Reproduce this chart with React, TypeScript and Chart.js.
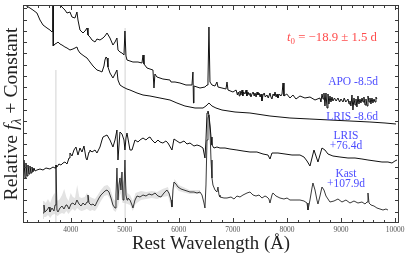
import { useEffect, useRef } from "react";
import { Chart, registerables } from "chart.js";

Chart.register(...registerables);

// ---------- axis ranges ----------
const xMin = 3118;
const xMax = 10074;
const yMin = 0;
const yMax = 218;
const yTickStep = 11.3;
const minorStep = 200;
const xTickLabels = [4000, 5000, 6000, 7000, 8000, 9000, 10000];

// ---------- spectra: [rest wavelength (Å), relative flux + constant] ----------
const apoSpectrum: [number, number][] = [
  [3746, 233], [3765, 220], [3802, 218], [3839, 216], [3894, 213], [3932, 210], [3987, 211], [4024, 206],
  [4079, 205], [4116, 211], [4135, 203], [4172, 193], [4228, 190], [4265, 192], [4302, 195], [4320, 188],
  [4357, 186], [4394, 183], [4450, 181], [4486, 184], [4542, 183], [4598, 185], [4634, 187], [4672, 190],
  [4727, 185], [4782, 178], [4820, 181], [4856, 185], [4875, 173], [4912, 171], [4949, 170], [4986, 168],
  [5004, 192], [5023, 167], [5042, 163], [5097, 162], [5152, 161], [5245, 161], [5319, 160], [5338, 168],
  [5356, 159], [5412, 155], [5467, 154], [5522, 153], [5541, 135], [5559, 149], [5596, 146], [5706, 144],
  [5837, 143], [5856, 141], [5930, 141], [6022, 140], [6133, 138], [6244, 138], [6262, 151], [6272, 120],
  [6281, 137], [6392, 135], [6484, 136], [6522, 138], [6540, 143], [6558, 196], [6577, 141], [6614, 138],
  [6670, 137], [6706, 141], [6725, 136], [6799, 135], [6873, 134], [6892, 141], [6910, 133], [7002, 131],
  [7060, 133], [7085, 128], [7100, 131], [7120, 127], [7132, 132], [7150, 128], [7170, 133], [7185, 127],
  [7200, 131], [7225, 129], [7245, 133], [7260, 127], [7280, 131], [7300, 128], [7317, 130], [7335, 126],
  [7354, 129], [7375, 131], [7395, 127], [7410, 130], [7430, 126], [7448, 131], [7465, 128], [7485, 130],
  [7505, 126], [7521, 129], [7539, 122], [7558, 128], [7580, 130], [7600, 126], [7632, 128], [7655, 125],
  [7687, 130], [7705, 126], [7724, 124], [7745, 129], [7765, 127], [7780, 131], [7800, 126], [7818, 129],
  [7835, 125], [7860, 129], [7890, 127], [7910, 129], [7928, 140], [7946, 127], [7998, 129], [8057, 125],
  [8112, 128], [8168, 124], [8242, 127], [8334, 125], [8427, 126], [8520, 123], [8612, 125], [8630, 121],
  [8650, 129], [8668, 124], [8686, 130], [8704, 117], [8723, 130], [8742, 115], [8760, 129], [8778, 119],
  [8797, 127], [8815, 121], [8834, 126], [8852, 122], [8880, 125], [8910, 122], [8945, 125], [8975, 121],
  [9000, 124], [9038, 121], [9060, 125], [9090, 121], [9130, 124], [9150, 119], [9167, 122], [9185, 117],
  [9204, 128], [9222, 113], [9241, 125], [9260, 118], [9278, 124], [9296, 116], [9315, 127], [9333, 119],
  [9352, 124], [9370, 120], [9390, 125], [9408, 121], [9425, 126], [9445, 118], [9463, 124], [9482, 117],
  [9500, 127], [9519, 121], [9537, 125], [9555, 119], [9574, 125], [9592, 120], [9611, 124], [9630, 121],
  [9648, 126], [9666, 124],
];

const lrisEarlySpectrum: [number, number][] = [
  [3118, 225], [3155, 218], [3247, 215], [3302, 213], [3376, 210], [3432, 203], [3488, 198], [3562, 195],
  [3617, 193], [3654, 191], [3668, 192], [3673, 228], [3678, 177], [3710, 179], [3746, 180], [3765, 181],
  [3802, 179], [3839, 178], [3894, 176], [3932, 175], [3987, 173], [4042, 174], [4116, 176], [4135, 173],
  [4172, 170], [4246, 167], [4302, 165], [4357, 161], [4413, 157], [4486, 153], [4542, 152], [4579, 151],
  [4616, 157], [4634, 163], [4653, 166], [4672, 165], [4690, 156], [4727, 150], [4782, 145], [4820, 149],
  [4856, 153], [4875, 143], [4912, 138], [4968, 136], [5042, 134], [5097, 133], [5227, 130], [5338, 128],
  [5467, 127], [5652, 125], [5837, 123], [5966, 120], [6114, 117], [6300, 115], [6448, 115], [6503, 117],
  [6558, 120], [6614, 117], [6688, 115], [6799, 113], [7040, 111], [7317, 110], [7687, 107], [8057, 105],
  [8427, 104], [8797, 103], [9167, 102], [9537, 101], [9815, 100], [10018, 99],
];

const lrisLateSpectrum: [number, number][] = [
  [3118, 53], [3136, 63], [3155, 45], [3173, 60], [3192, 47], [3210, 58], [3229, 49], [3247, 57],
  [3266, 50], [3284, 56], [3302, 51], [3321, 55], [3340, 52], [3376, 53], [3432, 54], [3488, 53],
  [3543, 55], [3617, 54], [3673, 56], [3710, 55], [3728, 58], [3746, 56], [3783, 59], [3820, 58],
  [3858, 60], [3894, 61], [3932, 59], [3969, 65], [3987, 70], [4024, 67], [4061, 73], [4098, 76],
  [4135, 68], [4172, 75], [4209, 71], [4246, 77], [4283, 65], [4302, 63], [4339, 71], [4357, 73],
  [4394, 71], [4450, 73], [4486, 70], [4542, 76], [4579, 83], [4598, 86], [4634, 87], [4672, 88],
  [4727, 83], [4782, 76], [4820, 83], [4856, 93], [4875, 63], [4894, 78], [4912, 91], [4949, 89],
  [4986, 83], [5004, 73], [5023, 85], [5042, 90], [5097, 73], [5134, 73], [5190, 83], [5245, 81],
  [5282, 83], [5338, 85], [5393, 83], [5430, 85], [5467, 86], [5504, 83], [5560, 80], [5615, 83],
  [5652, 81], [5706, 80], [5762, 82], [5800, 80], [5874, 73], [5911, 84], [5966, 82], [6022, 80],
  [6096, 82], [6152, 79], [6207, 80], [6281, 77], [6337, 78], [6392, 77], [6448, 75], [6484, 65],
  [6503, 83], [6522, 110], [6540, 112], [6558, 108], [6577, 98], [6596, 86], [6614, 78], [6651, 75],
  [6706, 76], [6762, 75], [6855, 75], [6947, 74], [7076, 73], [7188, 72], [7317, 71], [7446, 71],
  [7558, 69], [7650, 68], [7687, 64], [7724, 70], [7835, 70], [7965, 69], [8094, 68], [8242, 68],
  [8316, 66], [8372, 62], [8427, 57], [8464, 65], [8501, 73], [8538, 67], [8575, 61], [8612, 68],
  [8649, 75], [8704, 73], [8760, 69], [8852, 67], [8982, 66], [9130, 65], [9260, 65], [9389, 64],
  [9500, 63], [9630, 62], [9759, 61], [9870, 61], [9944, 60], [9999, 62], [10036, 63],
];

const kastSpectrum: [number, number][] = [
  [3488, 10], [3506, 18], [3524, 11], [3562, 13], [3599, 16], [3617, 11], [3654, 15], [3691, 12],
  [3710, 18], [3728, 58], [3746, 13], [3765, 11], [3802, 15], [3839, 17], [3876, 14], [3913, 18],
  [3932, 18], [3969, 14], [4006, 19], [4042, 20], [4079, 18], [4116, 23], [4154, 19], [4191, 17],
  [4228, 20], [4265, 18], [4302, 21], [4320, 28], [4339, 20], [4376, 18], [4413, 19], [4450, 17],
  [4486, 21], [4524, 25], [4560, 28], [4598, 30], [4634, 32], [4672, 33], [4708, 31], [4746, 25],
  [4782, 18], [4820, 15], [4838, 28], [4856, 55], [4875, 23], [4894, 38], [4912, 45], [4930, 33],
  [4949, 51], [4968, 23], [4986, 33], [5004, 63], [5023, 28], [5042, 23], [5060, 25], [5097, 23],
  [5134, 18], [5152, 15], [5190, 23], [5227, 27], [5282, 26], [5338, 28], [5393, 27], [5449, 29],
  [5504, 28], [5560, 30], [5615, 27], [5670, 26], [5726, 30], [5780, 33], [5818, 30], [5856, 23],
  [5874, 16], [5892, 33], [5911, 41], [5948, 39], [5985, 36], [6041, 34], [6096, 33], [6152, 32],
  [6207, 31], [6281, 31], [6337, 30], [6392, 31], [6429, 28], [6466, 20], [6484, 15], [6503, 38],
  [6522, 83], [6540, 105], [6558, 108], [6577, 93], [6596, 63], [6614, 45], [6632, 38], [6670, 33],
  [6706, 31], [6725, 36], [6744, 28], [6762, 26], [6836, 25], [6892, 25], [6966, 26], [7021, 24],
  [7076, 27], [7132, 26], [7188, 28], [7262, 30], [7317, 31], [7373, 28], [7428, 27], [7484, 28],
  [7539, 25], [7595, 27], [7632, 26], [7668, 24], [7687, 20], [7724, 28], [7742, 30], [7798, 27],
  [7872, 25], [7946, 24], [8002, 25], [8057, 23], [8150, 23], [8242, 23], [8316, 22], [8372, 20],
  [8390, 13], [8427, 23], [8464, 35], [8482, 40], [8520, 33], [8556, 23], [8575, 19], [8612, 27],
  [8649, 36], [8686, 33], [8723, 27], [8797, 21], [8871, 22], [8945, 24], [9019, 21], [9093, 23],
  [9167, 20], [9241, 22], [9315, 20], [9389, 21], [9445, 19], [9482, 21], [9500, 30], [9519, 20],
  [9556, 18], [9611, 17], [9666, 15], [9722, 14], [9778, 13], [9833, 14], [9870, 13],
];

// Kast uncertainty envelope: [wavelength, lower, upper]
const kastBand: [number, number, number][] = [
  [3488, 4, 40], [3506, 6, 22], [3540, 6, 20], [3580, 8, 24], [3620, 5, 20], [3660, 8, 26], [3700, 9, 30],
  [3760, 7, 22], [3800, 9, 24], [3840, 10, 28], [3880, 9, 34], [3920, 12, 26], [3960, 9, 22], [4000, 12, 30],
  [4040, 14, 26], [4080, 12, 25], [4120, 15, 38], [4160, 13, 26], [4200, 12, 25], [4260, 13, 26], [4300, 14, 30],
  [4360, 12, 26], [4400, 13, 25], [4450, 12, 24], [4500, 16, 28], [4560, 22, 33], [4620, 27, 37], [4680, 28, 38],
  [4730, 24, 35], [4790, 13, 24], [4830, 11, 22], [4880, 17, 40], [4920, 30, 48], [4960, 20, 40], [5000, 20, 45],
  [5050, 19, 30], [5100, 18, 28], [5150, 12, 22], [5200, 19, 30], [5300, 23, 32], [5400, 24, 31], [5500, 25, 32],
  [5600, 24, 31], [5700, 26, 34], [5800, 27, 36], [5874, 13, 20], [5920, 37, 44], [6000, 32, 38], [6200, 29, 33],
  [6400, 29, 33],
];

// host-galaxy line markers
const markerOII: [number, number][] = [[3727, 0], [3727, 153]];
const markerOIII: [number, number][] = [[5007, 0], [5007, 195]];

const spectrumLabels = [
  { lines: ["APO -8.5d"], x: 378, y: 85, align: "right" },
  { lines: ["LRIS -8.6d"], x: 378, y: 120, align: "right" },
  { lines: ["LRIS", "+76.4d"], x: 346, y: 139, align: "center" },
  { lines: ["Kast", "+107.9d"], x: 346, y: 177, align: "center" },
];

const SERIF = '"Liberation Serif", "DejaVu Serif", serif';

type Part = { t: string; italic?: boolean; sub?: boolean };

function partFont(p: Part, size: number) {
  const s = p.sub ? size * 0.7 : size;
  return `${p.italic ? "italic " : ""}${s}px ${SERIF}`;
}

function measureParts(ctx: CanvasRenderingContext2D, parts: Part[], size: number) {
  let w = 0;
  for (const p of parts) {
    ctx.font = partFont(p, size);
    w += ctx.measureText(p.t).width;
  }
  return w;
}

function drawParts(ctx: CanvasRenderingContext2D, parts: Part[], x: number, y: number, size: number) {
  let cx = x;
  ctx.textAlign = "left";
  ctx.textBaseline = "alphabetic";
  for (const p of parts) {
    ctx.font = partFont(p, size);
    ctx.fillText(p.t, cx, p.sub ? y + size * 0.22 : y);
    cx += ctx.measureText(p.t).width;
  }
}

function fitSize(ctx: CanvasRenderingContext2D, parts: Part[], target: number) {
  const w = measureParts(ctx, parts, 20);
  return (20 * target) / w;
}

const overlay = {
  id: "overlay",
  afterDraw(chart: any) {
    const { ctx, chartArea: a, scales } = chart;
    const xs = scales.x;
    const ys = scales.y;
    ctx.save();
    // frame
    ctx.strokeStyle = "#3a3a3a";
    ctx.lineWidth = 1;
    ctx.strokeRect(a.left + 0.5, a.top + 0.5, a.right - a.left - 1, a.bottom - a.top - 1);
    // ticks
    ctx.beginPath();
    for (let w = Math.ceil(xMin / minorStep) * minorStep; w <= xMax; w += minorStep) {
      const px = Math.round(xs.getPixelForValue(w)) + 0.5;
      const len = w % 1000 === 0 ? 5 : 3;
      ctx.moveTo(px, a.bottom);
      ctx.lineTo(px, a.bottom - len);
      ctx.moveTo(px, a.top);
      ctx.lineTo(px, a.top + len);
    }
    for (let v = yTickStep; v < yMax; v += yTickStep) {
      const py = Math.round(ys.getPixelForValue(v)) + 0.5;
      ctx.moveTo(a.left, py);
      ctx.lineTo(a.left + 4, py);
      ctx.moveTo(a.right, py);
      ctx.lineTo(a.right - 4, py);
    }
    ctx.stroke();
    // tick labels
    ctx.fillStyle = "#555";
    ctx.font = `7.5px ${SERIF}`;
    ctx.textAlign = "center";
    ctx.textBaseline = "alphabetic";
    for (const w of xTickLabels) {
      ctx.fillText(String(w), xs.getPixelForValue(w), a.bottom + 8.5);
    }
    // x title
    ctx.fillStyle = "#222";
    const xt: Part[] = [{ t: "Rest Wavelength (Å)" }];
    const xsz = fitSize(ctx, xt, 158);
    drawParts(ctx, xt, 211 - 79, 249, xsz);
    // y title
    const yt: Part[] = [
      { t: "Relative " },
      { t: "f", italic: true },
      { t: "λ", italic: true, sub: true },
      { t: " + Constant" },
    ];
    const ysz = fitSize(ctx, yt, 173);
    ctx.save();
    ctx.translate(17, 114);
    ctx.rotate(-Math.PI / 2);
    drawParts(ctx, yt, -86.5, 0, ysz);
    ctx.restore();
    // t0 annotation
    ctx.fillStyle = "#ff4d4d";
    const t0: Part[] = [{ t: "t", italic: true }, { t: "0", sub: true }, { t: " = −18.9 ± 1.5 d" }];
    const tsz = fitSize(ctx, t0, 90);
    drawParts(ctx, t0, 287, 41, tsz);
    // spectrum labels
    ctx.fillStyle = "#4c4cff";
    ctx.font = `11.5px ${SERIF}`;
    ctx.textBaseline = "alphabetic";
    for (const l of spectrumLabels) {
      ctx.textAlign = l.align as CanvasTextAlign;
      l.lines.forEach((s, i) => ctx.fillText(s, l.x, l.y + i * 10));
    }
    ctx.restore();
  },
};

const toXY = (arr: [number, number][]) => arr.map(([x, y]) => ({ x, y }));

export default function App() {
  const ref = useRef<HTMLCanvasElement | null>(null);
  useEffect(() => {
    document.body.style.margin = "0";
    const canvas = ref.current;
    if (!canvas) return;
    const line = (data: any, color = "#111", width = 1) => ({
      data,
      borderColor: color,
      borderWidth: width,
      pointRadius: 0,
      tension: 0,
      fill: false,
    });
    const chart = new Chart(canvas, {
      type: "line",
      data: {
        datasets: [
          line(toXY(apoSpectrum)),
          line(toXY(lrisEarlySpectrum)),
          line(toXY(lrisLateSpectrum)),
          line(toXY(kastSpectrum), "#222", 0.9),
          line(toXY(markerOII), "#d2d2d2", 1),
          line(toXY(markerOIII), "#d2d2d2", 1),
          {
            data: kastBand.map(([x, , hi]) => ({ x, y: hi })),
            borderWidth: 0,
            borderColor: "rgba(0,0,0,0)",
            pointRadius: 0,
            tension: 0,
            fill: false,
          },
          {
            data: kastBand.map(([x, lo]) => ({ x, y: lo })),
            borderWidth: 0,
            borderColor: "rgba(0,0,0,0)",
            backgroundColor: "#e3e3e3",
            pointRadius: 0,
            tension: 0,
            fill: "-1",
          },
        ] as any,
      },
      options: {
        animation: false,
        responsive: false,
        maintainAspectRatio: false,
        devicePixelRatio: 1,
        layout: { padding: { left: 23, right: 8, top: 5, bottom: 35 } },
        scales: {
          x: { type: "linear", min: xMin, max: xMax, display: false },
          y: { type: "linear", min: yMin, max: yMax, display: false },
        },
        plugins: { legend: { display: false }, tooltip: { enabled: false } },
        events: [],
      },
      plugins: [overlay],
    });
    return () => chart.destroy();
  }, []);
  return (
    <div style={{ position: "fixed", left: 0, top: 0, width: 407, height: 258, background: "#fff" }}>
      <canvas ref={ref} width={407} height={258} style={{ display: "block", width: 407, height: 258 }} />
    </div>
  );
}
